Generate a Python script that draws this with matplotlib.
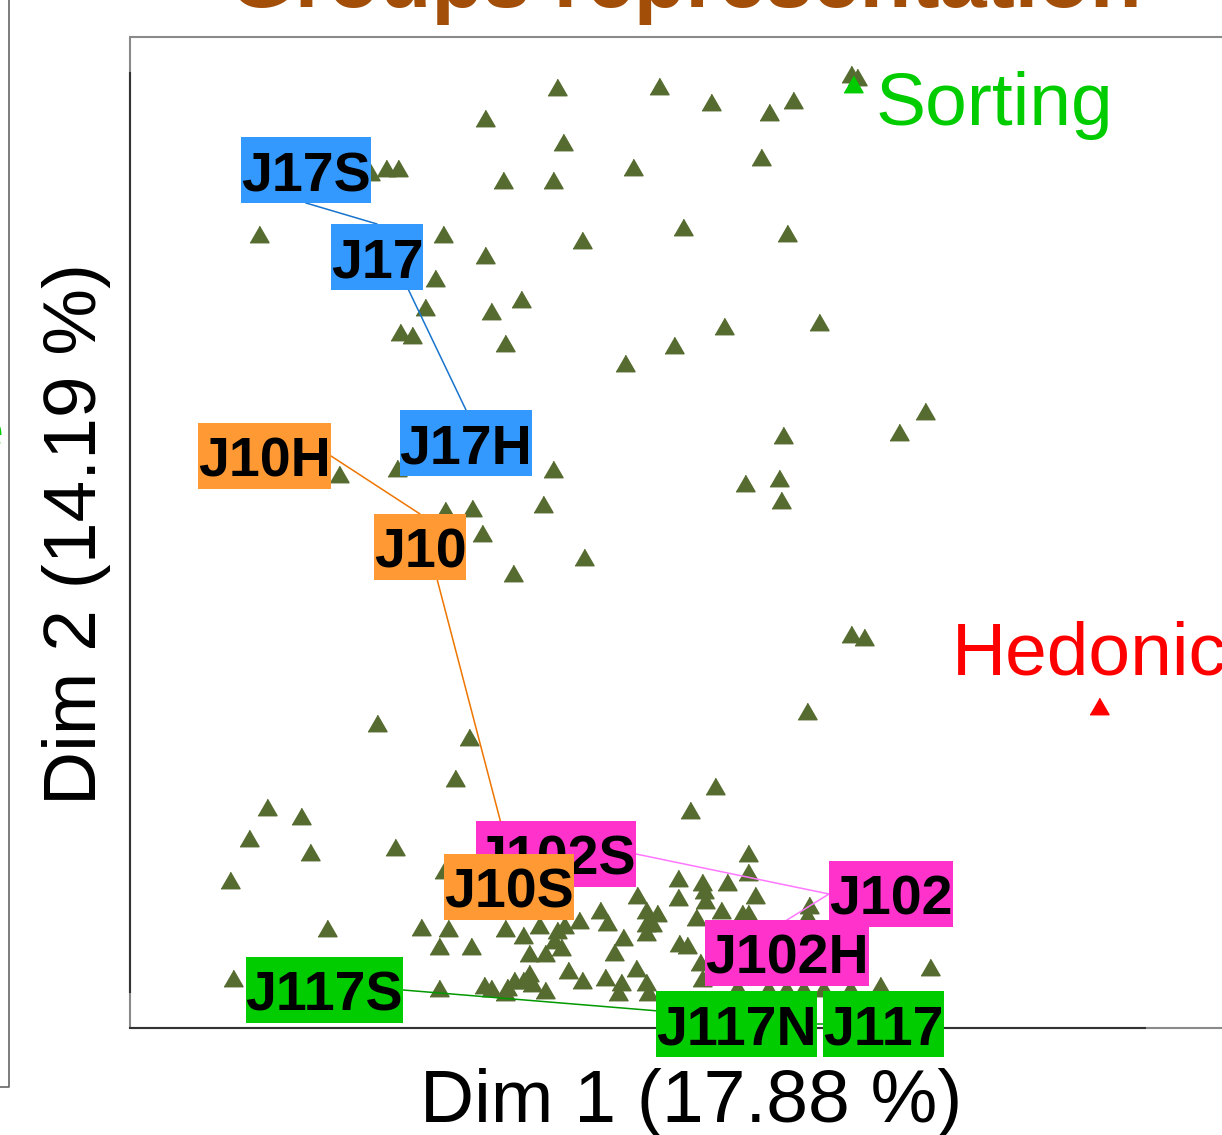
import matplotlib
matplotlib.use("Agg")
import matplotlib.pyplot as plt
from matplotlib.lines import Line2D
from matplotlib.patches import Rectangle
from matplotlib.path import Path

plt.rcParams['font.family'] = ['Liberation Sans', 'DejaVu Sans']

# individual coordinates on the first two dimensions
ind_x = [-0.43, 0.59, 1.11, 1.69, 1.93, 2.51, 2.57, -1.15, -0.37, 1.61,
         0.33, -0.97, -0.47, -2.30, -2.14, -2.02, -3.41, -1.57, -1.15, -0.18,
         0.83, 1.87, -1.65, -0.79, -1.75, -1.09, -2.00, -1.88, -0.95, 0.74,
         1.24, 2.19, 0.25, 3.25, 2.99, 1.83, -2.61, -2.03, -0.47, -1.55,
         -1.28, -0.57, -1.18, -0.16, -0.87, 1.45, 1.79, 1.81, 2.51, 2.64,
         2.07, 1.15, 0.90, -2.23, -1.31, -1.45, -3.33, -2.99, -3.51, -2.90,
         -2.05, -3.70, -1.56, -2.73, -3.67, -1.79, -1.52, -1.61, -1.29, -0.95,
         -0.77, -0.61, -0.43, -0.36, -0.46, -0.39, -0.71, -0.55, -0.21, 0.00,
         0.07, 0.23, 0.14, 0.37, 0.46, 0.57, 0.46, 0.52, 0.46, 0.78,
         0.78, 1.02, 1.04, 1.05, 1.27, 1.48, 1.48, 1.55, 1.21, 0.96,
         1.42, 1.48, 2.07, 2.09, 0.79, 0.87, 1.00, 1.02, 0.36, 0.05,
         -0.18, -0.32, 0.21, 0.18, 0.46, 0.48, -0.55, -1.16, -1.09, -0.93,
         -0.86, -0.77, -0.68, -0.71, -0.95, -1.61, 3.30, 2.80, 2.50, 2.23,
         2.03, 1.86, 1.68, 1.37]
ind_y = [5.63, 5.64, 5.48, 5.38, 5.50, 5.76, 5.73, 5.32, 5.08, 4.93,
         4.83, 4.70, 4.70, 4.78, 4.82, 4.82, 4.16, 4.16, 3.95, 4.10,
         4.23, 4.17, 3.72, 3.51, 3.43, 3.39, 3.18, 3.15, 3.07, 3.05,
         3.24, 3.28, 2.87, 2.39, 2.18, 2.15, 1.76, 1.82, 1.81, 1.40,
         1.42, 1.46, 1.17, 0.93, 0.77, 1.67, 1.72, 1.50, 0.16, 0.13,
         -0.61, -1.36, -1.60, -0.73, -0.87, -1.28, -1.57, -1.66, -1.88, -2.02,
         -1.97, -2.30, -2.20, -2.78, -3.28, -2.77, -2.78, -2.96, -2.96, -2.78,
         -2.85, -2.75, -2.80, -2.75, -2.90, -2.97, -3.03, -3.03, -2.70, -2.60,
         -2.72, -2.87, -3.02, -2.45, -2.60, -2.63, -2.73, -2.73, -2.82, -2.28,
         -2.47, -2.32, -2.40, -2.50, -2.32, -2.03, -2.22, -2.45, -2.60, -2.67,
         -2.63, -2.63, -2.65, -2.55, -2.93, -2.95, -3.12, -3.28, -3.18, -3.27,
         -3.30, -3.20, -3.32, -3.42, -3.32, -3.42, -3.40, -3.35, -3.38, -3.37,
         -3.30, -3.30, -3.33, -3.23, -3.42, -3.38, -3.17, -3.35, -3.38, -3.38,
         -3.38, -3.38, -3.38, -3.37]

# supplementary groups
sup_names = ['Sorting', 'Hedonic']
sup_x = [2.53, 4.99]
sup_y = [5.66, -0.56]
sup_colors = ['#00CC00', '#FF0000']

# partial groups, one trajectory per product family (drawn in this order)
families = [
    (['J17S', 'J17', 'J17H'], '#3399FF', '#1874CD'),
    (['J102S', 'J102', 'J102H'], '#FF33CC', '#FF77FF'),
    (['J10H', 'J10', 'J10S'], '#FF9933', '#EE7600'),
    (['J117S', 'J117N', 'J117'], '#00CC00', '#009900'),
]
grp_x = {'J17S': -2.94, 'J17': -2.23, 'J17H': -1.34,
         'J10H': -2.69, 'J10': -1.80, 'J10S': -0.91,
         'J102S': 0.36, 'J102': 2.29, 'J102H': 1.87,
         'J117S': -1.97, 'J117N': 2.17, 'J117': 2.23}
grp_y = {'J17S': 4.47, 'J17': 4.26, 'J17H': 2.40,
         'J10H': 1.94, 'J10': 1.36, 'J10S': -2.04,
         'J102S': -2.04, 'J102': -2.44, 'J102H': -2.70,
         'J117S': -3.40, 'J117N': -3.74, 'J117': -3.74}
# where each label box sits relative to its point (ha, va)
grp_align = {'J17S': ('center', 'bottom'), 'J17': ('center', 'top'),
             'J17H': ('center', 'top'), 'J10H': ('right', 'center'),
             'J10': ('center', 'top'), 'J10S': ('center', 'top'),
             'J102S': ('right', 'center'), 'J102': ('left', 'center'),
             'J102H': ('center', 'top'), 'J117S': ('right', 'center'),
             'J117N': ('right', 'center'), 'J117': ('left', 'center')}

title = 'Groups representation'
xlab = 'Dim 1 (17.88 %)'
ylab = 'Dim 2 (14.19 %)'

TOP_PAD = 0.25  # extra room above the capitals, in font sizes


def label_box(x0, y0, width, height, mutation_size):
    # square box hugging the text, with some headroom on top
    y1 = y0 + height + TOP_PAD * mutation_size
    return Path([(x0, y0), (x0 + width, y0), (x0 + width, y1), (x0, y1), (x0, y0)],
                closed=True)


W, H = 1222, 1135
fig = plt.figure(figsize=(W / 100, H / 100), dpi=100)
ax = fig.add_axes([130 / W, (H - 1028) / H, (1260 - 130) / W, (1028 - 37) / H])
ax.set_xlim(-4.70, 6.60)
ax.set_ylim(-3.78, 6.13)
ax.set_xticks([])
ax.set_yticks([])

# grey box plus darker axis lines over the data range
for s in ax.spines.values():
    s.set_visible(False)
ax.add_patch(Rectangle((0, 0), 1, 1, transform=ax.transAxes, fill=False,
                       ec='#8a8a8a', lw=1.5, clip_on=False, zorder=0))
ax.plot([-4.70, 5.45], [-3.78, -3.78], color='#333333', lw=1.5, clip_on=False, zorder=1)
ax.plot([-4.70, -4.70], [-3.42, 5.77], color='#333333', lw=1.5, clip_on=False, zorder=1)

tri = [(-1, -0.866), (1, -0.866), (0, 0.866)]
ax.plot(ind_x, ind_y, ls='none', marker=tri, ms=13.7, color='#556B2F', zorder=2)

for name, x, y, c in zip(sup_names, sup_x, sup_y, sup_colors):
    ax.plot(x, y, ls='none', marker=tri, ms=13.7, color=c, zorder=3)
    if name == 'Sorting':
        ax.annotate(name, (x, y), xytext=(16, -29.5), textcoords='offset points',
                    ha='left', va='baseline', fontsize=54, color=c,
                    annotation_clip=False)
    else:
        ax.annotate(name, (x, y), xytext=(-7, 23), textcoords='offset points',
                    ha='center', va='baseline', fontsize=54, color=c,
                    annotation_clip=False)

fs = 40
head = TOP_PAD * fs  # headroom in points
shift = {'top': -head, 'center': -head / 2, 'bottom': 0}
z = 5
for names, fill, line in families:
    ax.plot([grp_x[n] for n in names], [grp_y[n] for n in names],
            color=line, lw=1.1, clip_on=False, zorder=4)
    for n in names:
        ha, va = grp_align[n]
        ax.annotate(n, (grp_x[n], grp_y[n]), xytext=(0, shift[va]),
                    textcoords='offset points', ha=ha, va=va, fontsize=fs,
                    fontweight='bold', color='black', zorder=z,
                    annotation_clip=False,
                    bbox=dict(boxstyle=label_box, fc=fill, ec='none'))
        z += 1

fig.text(691 / W, (H - 1122) / H, xlab, ha='center', va='baseline', fontsize=54)
fig.text(96 / W, (H - 534) / H, ylab, ha='center', va='baseline', fontsize=54,
         rotation=90, rotation_mode='anchor')
fig.text(685 / W, (H - 7) / H, title, ha='center', va='baseline', fontsize=61,
         fontweight='bold', color='#A24E08')

# frame of the neighbouring panel on the left
fig.add_artist(Line2D([8.5 / W, 8.5 / W, 0], [1, (H - 1087) / H, (H - 1087) / H],
                      color='#666666', lw=1.2))
fig.text(3.5 / W, (H - 435) / H, 'e', ha='right', va='center', fontsize=40,
         color='#00CC00')

fig.savefig('out.png', dpi=100)
